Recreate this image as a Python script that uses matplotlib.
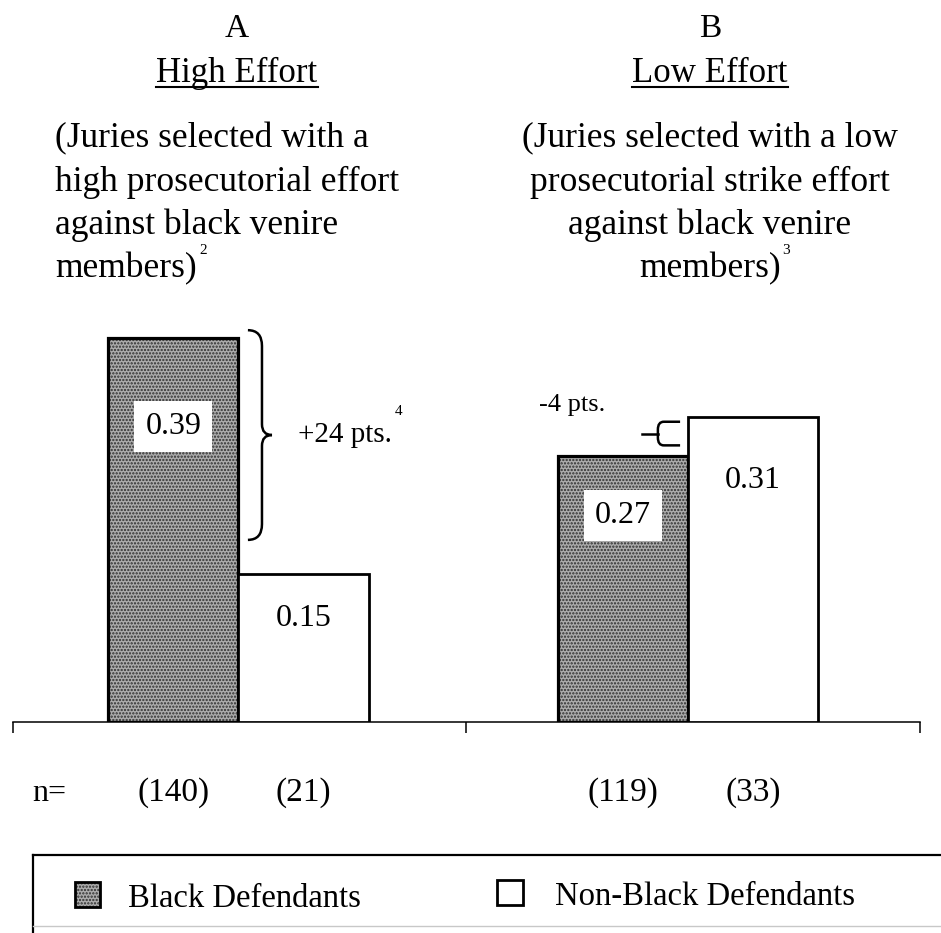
import matplotlib
matplotlib.use('Agg')
import matplotlib.pyplot as plt
import numpy as np
from matplotlib.patches import Rectangle, PathPatch
from matplotlib.path import Path
from matplotlib.lines import Line2D
import matplotlib.transforms as mtransforms

plt.rcParams['font.family'] = ['Liberation Serif', 'DejaVu Serif']
plt.rcParams['hatch.linewidth'] = 1.1

# ---------------- data ----------------
groups = ['A', 'B']
group_titles = ['High Effort', 'Low Effort']
group_desc_a = ["(Juries selected with a", "high prosecutorial effort",
                "against black venire", "members)"]
group_desc_b = ["(Juries selected with a low", "prosecutorial strike effort",
                "against black venire", "members)"]
footnotes = ['2', '3']
series = ['Black Defendants', 'Non-Black Defendants']
black_vals = [0.39, 0.27]
nonblack_vals = [0.15, 0.31]
black_n = [140, 119]
nonblack_n = [21, 33]
diff_labels = ['+24 pts.', '-4 pts.']
diff_note = '4'

# ---------------- layout helpers ----------------
W, H = 941, 933
fig = plt.figure(figsize=(W / 100, H / 100), dpi=100)
fx = lambda x: x / W
fy = lambda y: 1 - y / H

BLACK_FACE = '#acacac'
DOT = '#2e2e2e'

ax = fig.add_axes([fx(13), fy(722), (920 - 13) / W, (722 - 279) / H])
ax.set_xlim(0, 2)
ax.set_ylim(0, 0.45)

centers = np.array([0.497, 1.488])
w = 0.287
xb = centers - w / 2
xn = centers + w / 2

# black bars: stipple fill then outline
ax.bar(xb, black_vals, w, color=BLACK_FACE, hatch='.....', edgecolor=DOT,
       linewidth=0, zorder=2)
ax.bar(xb, black_vals, w, fill=False, edgecolor='black', linewidth=2.3, zorder=3)
ax.bar(xn, nonblack_vals, w, facecolor='white', edgecolor='black',
       linewidth=2.0, zorder=3)

# axis styling
for s in ['left', 'top', 'right']:
    ax.spines[s].set_visible(False)
ax.spines['bottom'].set_linewidth(1.1)
ax.set_xticks([0, 1, 2])
ax.set_xticklabels([])
ax.tick_params(axis='x', direction='out', length=8, width=1.1)
ax.set_yticks([])
ax.patch.set_alpha(0)

# value labels
black_drop = [0.09, 0.06]
nonblack_drop = [0.045, 0.065]
for i in range(2):
    ax.text(xb[i], black_vals[i] - black_drop[i], f'{black_vals[i]:.2f}',
            ha='center', va='center', fontsize=23, zorder=5,
            bbox=dict(facecolor='white', edgecolor='none',
                      boxstyle='square,pad=0.35'))
    ax.text(xn[i], nonblack_vals[i] - nonblack_drop[i], f'{nonblack_vals[i]:.2f}',
            ha='center', va='center', fontsize=23, zorder=5)

# curly brace for group A
ytop = black_vals[0] + 0.008
ybot = nonblack_vals[0] + 0.035
ymid = (ytop + ybot) / 2
x0, xs, xt = 0.518, 0.549, 0.571
d1, d2 = 0.016, 0.011
verts = [(x0, ytop), (xs, ytop), (xs, ytop - d1),
         (xs, ymid + d2),
         (xs, ymid), (xt, ymid),
         (xs, ymid), (xs, ymid - d2),
         (xs, ybot + d1),
         (xs, ybot), (x0, ybot)]
codes = [Path.MOVETO, Path.CURVE3, Path.CURVE3,
         Path.LINETO,
         Path.CURVE3, Path.CURVE3,
         Path.CURVE3, Path.CURVE3,
         Path.LINETO,
         Path.CURVE3, Path.CURVE3]
ax.add_patch(PathPatch(Path(verts, codes), fill=False, edgecolor='black',
                       linewidth=1.8, clip_on=False, zorder=4))
ax.text(0.628, ymid, diff_labels[0], ha='left', va='center', fontsize=21)
ax.text(0.851, ymid + 0.024, diff_note, ha='center', va='center', fontsize=11)

# small bracket for group B
bt = nonblack_vals[1] - 0.005
bb = black_vals[1] + 0.011
bm = (bt + bb) / 2
bx0, bx1, bxs = 1.471, 1.422, 1.387
r = 0.008
verts2 = [(bx0, bt), (bx1 + 0.013, bt), (bx1, bt), (bx1, bt - r),
          (bx1, bb + r), (bx1, bb), (bx1 + 0.013, bb), (bx0, bb)]
codes2 = [Path.MOVETO, Path.LINETO, Path.CURVE3, Path.CURVE3,
          Path.LINETO, Path.CURVE3, Path.CURVE3, Path.LINETO]
ax.add_patch(PathPatch(Path(verts2, codes2), fill=False, edgecolor='black',
                       linewidth=1.8, clip_on=False, zorder=4))
ax.add_line(Line2D([bxs, bx1], [bm, bm], color='black', linewidth=1.8,
                   clip_on=False))
ax.text(1.232, 0.322, diff_labels[1], ha='center', va='center', fontsize=19)

# n row
trans = mtransforms.blended_transform_factory(ax.transData, fig.transFigure)
fig.text(fx(32), fy(801), 'n=', ha='left', va='baseline', fontsize=23)
for i in range(2):
    ax.text(xb[i], fy(801), f'({black_n[i]})', transform=trans,
            ha='center', va='baseline', fontsize=24)
    ax.text(xn[i], fy(801), f'({nonblack_n[i]})', transform=trans,
            ha='center', va='baseline', fontsize=24)

# headings
head_x = [237, 710]
underline_items = []
for i in range(2):
    fig.text(fx(head_x[i]), fy(37), groups[i], ha='center', va='baseline',
             fontsize=24)
    t = fig.text(fx(head_x[i]), fy(82), group_titles[i], ha='center',
                 va='baseline', fontsize=25)
    underline_items.append(t)

baselines = [147, 190.5, 234, 277.5]
for j, line in enumerate(group_desc_a):
    fig.text(fx(55), fy(baselines[j]), line, ha='left', va='baseline',
             fontsize=25.5)
for j, line in enumerate(group_desc_b):
    fig.text(fx(710), fy(baselines[j]), line, ha='center', va='baseline',
             fontsize=25.5)
fig.text(fx(203), fy(250), footnotes[0], ha='center', va='center', fontsize=11)
fig.text(fx(786), fy(250), footnotes[1], ha='center', va='center', fontsize=11)

# legend box
fig.add_artist(Line2D([fx(33), fx(941)], [fy(855), fy(855)], color='black',
                      linewidth=1.6))
fig.add_artist(Line2D([fx(33), fx(33)], [fy(855), fy(933)], color='black',
                      linewidth=1.6))
fig.add_artist(Line2D([fx(33), fx(941)], [fy(926), fy(926)], color='#c8c8c8',
                      linewidth=1.0))
fig.add_artist(Rectangle((fx(75), fy(907)), fx(25), 25 / H,
                         facecolor=BLACK_FACE, hatch='.....', edgecolor=DOT,
                         linewidth=0, transform=fig.transFigure))
fig.add_artist(Rectangle((fx(75), fy(907)), fx(25), 25 / H, fill=False,
                         edgecolor='black', linewidth=2.0,
                         transform=fig.transFigure))
fig.add_artist(Rectangle((fx(497), fy(905)), fx(26), 25 / H,
                         facecolor='white', edgecolor='black', linewidth=2.0,
                         transform=fig.transFigure))
fig.text(fx(128), fy(907), series[0], ha='left', va='baseline', fontsize=23.5)
fig.text(fx(555), fy(905), series[1], ha='left', va='baseline', fontsize=23.5)

# underline headings
fig.canvas.draw()
renderer = fig.canvas.get_renderer()
for t in underline_items:
    bb_ = t.get_window_extent(renderer)
    fig.add_artist(Line2D([bb_.x0 / W, bb_.x1 / W], [fy(86.5), fy(86.5)],
                          color='black', linewidth=1.5))

fig.savefig('out.png', dpi=100, facecolor='white')
